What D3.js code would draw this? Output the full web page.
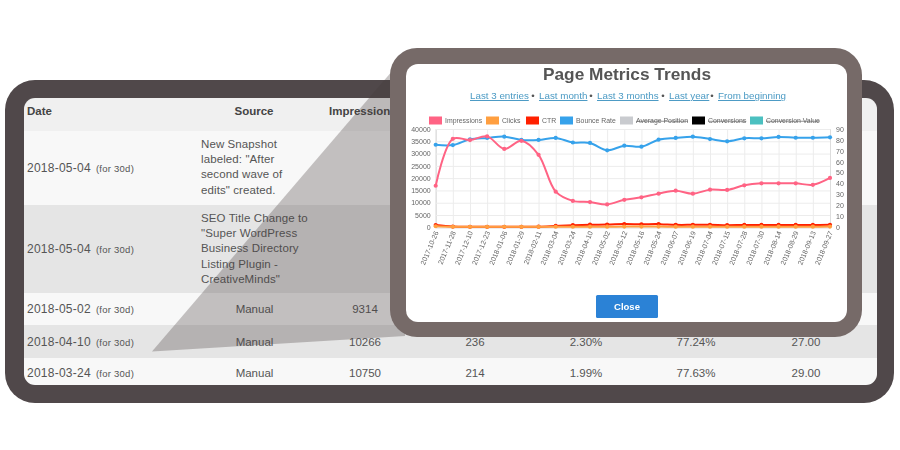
<!DOCTYPE html>
<html>
  <head>
    <meta charset="utf-8">
    <script src="https://d3js.org/d3.v7.min.js"></script>
    <style>
      html, body { margin: 0; padding: 0; background: #fff; }
      svg { display: block; filter: blur(0.35px); }
      text { font-family: "Liberation Sans", Arial, sans-serif; }
    </style>
  </head>
  <body>
    <script>
      // chart data
      var dates = ["2017-10-26","2017-11-28","2017-12-10","2017-12-23","2018-01-06","2018-01-29","2018-02-11","2018-03-04","2018-03-24","2018-04-10","2018-05-02","2018-05-12","2018-05-16","2018-05-24","2018-06-07","2018-06-19","2018-07-04","2018-07-15","2018-07-28","2018-07-30","2018-08-14","2018-08-29","2018-09-13","2018-09-27"];
      var impressions = [16900,36000,35500,37000,31900,35200,29500,14500,10750,10266,9314,11200,12200,13700,14900,13700,15300,15200,17100,17900,17900,17900,17300,20100];
      var clicks = [420,220,210,210,220,210,210,220,214,236,250,280,280,280,260,250,250,230,250,250,250,250,250,280];
      var ctr = [900,300,200,200,200,200,250,550,850,1050,1100,1300,1250,1300,1000,1000,1000,850,950,950,950,950,950,1000];
      var bounceRate = [75.6,75.3,80.6,81.8,83,80,80,81.8,77.63,77.24,70.5,74.7,73.8,80.2,81.8,83,80.8,78.7,81.5,81.5,82.7,82,82,82.4];

      var legendNames = ["Impressions","Clicks","CTR","Bounce Rate","Average Position","Conversions","Conversion Value"];
      var legendColors = ["#ff6384","#ff9f40","#ff2000","#36a2eb","#c9cbcf","#000000","#4bc0c0"];
      var legendHidden = [false,false,false,false,true,true,true];
      var legendX = [429,486,526,560,620,692,750];

      var linkNames = ["Last 3 entries","Last month","Last 3 months","Last year","From beginning"];
      var linkX = [470,539,597,669,718];

      var columnHeads = ["Date","Source","Impressions"];
      var rowDates = ["2018-05-04","2018-05-04","2018-05-02","2018-04-10","2018-03-24"];
      var rowSources = [
        ['New Snapshot','labeled: "After','second wave of','edits" created.'],
        ['SEO Title Change to','"Super WordPress','Business Directory','Listing Plugin -','CreativeMinds"'],
        ['Manual'],['Manual'],['Manual']
      ];
      var rowImpressions = ["","","9314","10266","10750"];
      var rowClicks = ["","","","236","214"];
      var rowCtr = ["","","","2.30%","1.99%"];
      var rowBounce = ["","","","77.24%","77.63%"];
      var rowPosition = ["","","","27.00","29.00"];

      var svg = d3.select("body").append("svg").attr("width", 900).attr("height", 450);

      // back table
      var rowTops = [98,131,205,293,325,358];
      var rowBottoms = [131,205,293,325,358,385];
      var rowFill = ["#f0f0f0","#f8f8f8","#e5e5e5","#f8f8f8","#e5e5e5","#f8f8f8"];
      var rowMid = [168,249,309,342,373];

      svg.append("rect").attr("x",5).attr("y",80).attr("width",889).attr("height",323).attr("rx",30).attr("fill","#50484a");
      svg.append("clipPath").attr("id","tableClip").append("rect")
        .attr("x",24).attr("y",98).attr("width",853).attr("height",287).attr("rx",11);
      var table = svg.append("g").attr("clip-path","url(#tableClip)");
      table.selectAll("rect").data(rowTops).join("rect")
        .attr("x",24).attr("width",853)
        .attr("y",function(d){return d;})
        .attr("height",function(d,i){return rowBottoms[i]-d;})
        .attr("fill",function(d,i){return rowFill[i];});

      var head = table.append("g").attr("font-weight","bold").attr("font-size",11.5).attr("fill","#444");
      head.append("text").attr("x",27).attr("y",115).text(columnHeads[0]);
      head.append("text").attr("x",254).attr("y",115).attr("text-anchor","middle").text(columnHeads[1]);
      head.append("text").attr("x",329).attr("y",115).text(columnHeads[2]);

      var body = table.append("g").attr("fill","#555").attr("font-size",11.5);
      rowDates.forEach(function(d,i){
        var t = body.append("text").attr("x",27).attr("y",rowMid[i]+4).attr("font-size",12).attr("letter-spacing",0.25).text(d);
        t.append("tspan").attr("font-size",9.5).attr("dx",5).text("(for 30d)");
        var s = rowSources[i];
        if (s.length > 1) {
          var start = i === 0 ? 148 : 222;
          s.forEach(function(line,j){
            body.append("text").attr("x",201).attr("y",start + j*15.2).attr("letter-spacing",0.1).text(line);
          });
        } else {
          body.append("text").attr("x",254.5).attr("y",rowMid[i]+4).attr("text-anchor","middle").text(s[0]);
        }
        [[365,rowImpressions],[475,rowClicks],[586,rowCtr],[696,rowBounce],[806,rowPosition]].forEach(function(c){
          body.append("text").attr("x",c[0]).attr("y",rowMid[i]+4).attr("text-anchor","middle").text(c[1][i]);
        });
      });

      // callout wedge
      svg.append("path").attr("d","M152,351.5L405,56L405,336Z").attr("fill","#463c3a").attr("fill-opacity",0.3);

      // popup
      svg.append("rect").attr("x",390).attr("y",48).attr("width",472).attr("height",289).attr("rx",27).attr("fill","#766a68");
      svg.append("rect").attr("x",406).attr("y",64).attr("width",441).attr("height",258).attr("rx",12).attr("fill","#fff");

      svg.append("text").attr("x",627).attr("y",80).attr("text-anchor","middle")
        .attr("font-size",17.3).attr("font-weight","bold").attr("fill","#555").text("Page Metrics Trends");

      var links = svg.append("g").attr("font-size",9.8);
      linkNames.forEach(function(d,i){
        links.append("text").attr("x",linkX[i]).attr("y",99).attr("fill","#4a9ac4")
          .attr("text-decoration","underline").text(d);
        if (i < linkNames.length-1) {
          links.append("text").attr("x",linkX[i+1]-6).attr("y",99).attr("text-anchor","middle").attr("fill","#555").text("•");
        }
      });

      // legend
      var legend = svg.append("g").attr("font-size",6.9).attr("fill","#666");
      legendNames.forEach(function(d,i){
        legend.append("rect").attr("x",legendX[i]).attr("y",116.5).attr("width",13).attr("height",8)
          .attr("fill",legendColors[i]);
        var t = legend.append("text").attr("x",legendX[i]+16).attr("y",123.2).text(d);
        if (legendHidden[i]) t.attr("text-decoration","line-through");
      });

      // chart
      var left = 435.7, right = 830, top0 = 129, bottom0 = 227.3;
      var x = d3.scalePoint().domain(dates).range([left,right]);
      var yLeft = d3.scaleLinear().domain([0,40000]).range([bottom0,top0]);
      var yRight = d3.scaleLinear().domain([0,90]).range([bottom0,top0]);

      var xAxis = svg.append("g").attr("transform","translate(0,"+bottom0+")")
        .call(d3.axisBottom(x).tickSize(-(bottom0-top0)).tickPadding(6));
      var yAxisL = svg.append("g").attr("transform","translate("+left+",0)")
        .call(d3.axisLeft(yLeft).tickValues(d3.range(0,40001,5000)).tickFormat(d3.format("d")).tickSize(-(right-left)).tickPadding(5));
      var yAxisR = svg.append("g").attr("transform","translate("+right+",0)")
        .call(d3.axisRight(yRight).tickValues(d3.range(0,91,10)).tickSize(0).tickPadding(6));

      [xAxis,yAxisL,yAxisR].forEach(function(a){
        a.selectAll(".tick line").attr("stroke","#ececec");
        a.selectAll(".domain").attr("stroke","#ddd");
        a.selectAll("text").attr("fill","#666").style("font-size","7px").style("font-family",'"Liberation Sans", Arial, sans-serif');
      });
      xAxis.selectAll("text")
        .attr("text-anchor","end").attr("dx","-0.1em").attr("dy","0.35em")
        .attr("transform","rotate(-67) translate(-3,-4)");

      function drawLine(values, yScale, color, width) {
        var line = d3.line()
          .x(function(d,i){return x(dates[i]);})
          .y(function(d){return yScale(d);})
          .curve(d3.curveCatmullRom.alpha(0.5));
        var g = svg.append("g");
        g.append("path").datum(values).attr("d",line).attr("fill","none").attr("stroke",color).attr("stroke-width",width);
        g.selectAll("circle").data(values).join("circle")
          .attr("cx",function(d,i){return x(dates[i]);})
          .attr("cy",function(d){return yScale(d);})
          .attr("r",2.1).attr("fill",color);
      }
      // first series ends up on top
      drawLine(bounceRate, yRight, legendColors[3], 2);
      drawLine(ctr, yLeft, legendColors[2], 2);
      drawLine(clicks, yLeft, legendColors[1], 2);
      drawLine(impressions, yLeft, legendColors[0], 2);

      // close button
      svg.append("rect").attr("x",596).attr("y",295).attr("width",62).attr("height",23).attr("rx",1.5).attr("fill","#2b82d6");
      svg.append("text").attr("x",627).attr("y",310).attr("text-anchor","middle").attr("font-size",9.5)
        .attr("font-weight","bold").attr("fill","#fff").text("Close");
    </script>
  </body>
</html>
